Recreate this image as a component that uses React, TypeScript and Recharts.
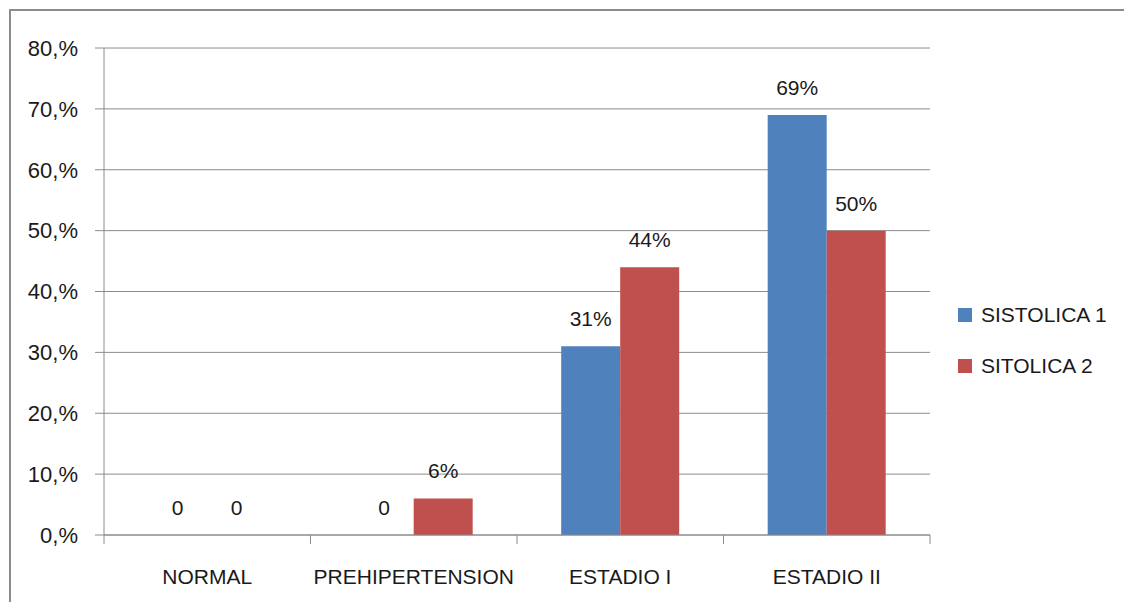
import React from 'react';
import { BarChart, Bar, XAxis, YAxis, CartesianGrid, Legend, LabelList } from 'recharts';

const categories = ['NORMAL', 'PREHIPERTENSION', 'ESTADIO I', 'ESTADIO II'];
const sistolica1 = [0, 0, 31, 69];
const sistolica2 = [0, 6, 44, 50];
const seriesNames = ['SISTOLICA 1', 'SITOLICA 2'];
const seriesColors = ['#4F81BD', '#C0504D'];
const yTicks = [0, 10, 20, 30, 40, 50, 60, 70, 80];

const data = categories.map((name, i) => ({
  name,
  s1: sistolica1[i],
  s2: sistolica2[i],
}));

const FONT = '"Liberation Sans", Arial, sans-serif';
const TEXT = '#1a1a1a';
const LINE = '#8c8c8c';
const X_TICK_MARGIN = 34;
const X_TICK_LEN = 9;
const LABEL_GAP = 20;

const formatLabel = (v: any) => (Number(v) === 0 ? '0' : `${v}%`);

// Category tick: label in the middle of the band, tick marks on the band edges.
const CategoryTick = (props: any) => {
  const { x, y, payload, index, visibleTicksCount } = props;
  const half = payload?.offset ?? 0;
  const axisY = y - X_TICK_MARGIN;
  const isLast = index === (visibleTicksCount ?? categories.length) - 1;
  return (
    <g>
      <line x1={x - half} x2={x - half} y1={axisY} y2={axisY + X_TICK_LEN} stroke={LINE} />
      {isLast && (
        <line x1={x + half} x2={x + half} y1={axisY} y2={axisY + X_TICK_LEN} stroke={LINE} />
      )}
      <text
        x={x}
        y={y}
        dy="0.71em"
        textAnchor="middle"
        fill={TEXT}
        fontSize={21}
        fontFamily={FONT}
      >
        {payload.value}
      </text>
    </g>
  );
};

const ValueLabel = (props: any) => {
  const { x, y, width, value } = props;
  return (
    <text
      x={Number(x) + Number(width) / 2}
      y={Number(y) - LABEL_GAP}
      textAnchor="middle"
      fill={TEXT}
      fontSize={21}
      fontFamily={FONT}
    >
      {formatLabel(value)}
    </text>
  );
};

const LegendBox = () => (
  <div style={{ fontFamily: FONT, fontSize: 21, color: TEXT }}>
    {seriesNames.map((n, i) => (
      <div key={n} style={{ height: 51, display: 'flex', alignItems: 'center' }}>
        <span
          style={{
            display: 'inline-block',
            width: 14,
            height: 14,
            background: seriesColors[i],
            marginRight: 9,
          }}
        />
        <span>{n}</span>
      </div>
    ))}
  </div>
);

export default function App() {
  return (
    <div style={{ position: 'absolute', left: 0, top: 0, width: 1124, height: 602, background: '#fff' }}>
      <div
        style={{
          position: 'absolute',
          left: 9,
          top: 9,
          width: 1115,
          height: 593,
          borderLeft: `2px solid ${LINE}`,
          borderTop: `2px solid ${LINE}`,
          boxSizing: 'border-box',
        }}
      />
      <div style={{ position: 'absolute', left: 0, top: 0 }}>
        <BarChart
          width={1124}
          height={602}
          data={data}
          margin={{ top: 48, right: 194, bottom: 0, left: 0 }}
          barCategoryGap="21.4%"
          barGap={0}
        >
          <CartesianGrid vertical={false} stroke={LINE} strokeWidth={1} />
          <XAxis
            dataKey="name"
            height={67}
            tickSize={0}
            tickLine={false}
            tickMargin={X_TICK_MARGIN}
            axisLine={{ stroke: LINE }}
            interval={0}
            tick={<CategoryTick />}
          />
          <YAxis
            width={104}
            domain={[0, 80]}
            ticks={yTicks}
            tickFormatter={(v: number) => `${v},%`}
            tickSize={9}
            tickMargin={17}
            axisLine={{ stroke: LINE }}
            tickLine={{ stroke: LINE }}
            tick={{ fill: TEXT, fontSize: 22, fontFamily: FONT }}
          />
          <Legend
            layout="vertical"
            align="center"
            verticalAlign="middle"
            wrapperStyle={{ left: 958, top: 289, width: 160 }}
            content={() => <LegendBox />}
          />
          <Bar
            dataKey="s1"
            name={seriesNames[0]}
            fill={seriesColors[0]}
            minPointSize={0.001}
            isAnimationActive={false}
          >
            <LabelList dataKey="s1" content={<ValueLabel />} />
          </Bar>
          <Bar
            dataKey="s2"
            name={seriesNames[1]}
            fill={seriesColors[1]}
            minPointSize={0.001}
            isAnimationActive={false}
          >
            <LabelList dataKey="s2" content={<ValueLabel />} />
          </Bar>
        </BarChart>
      </div>
    </div>
  );
}
